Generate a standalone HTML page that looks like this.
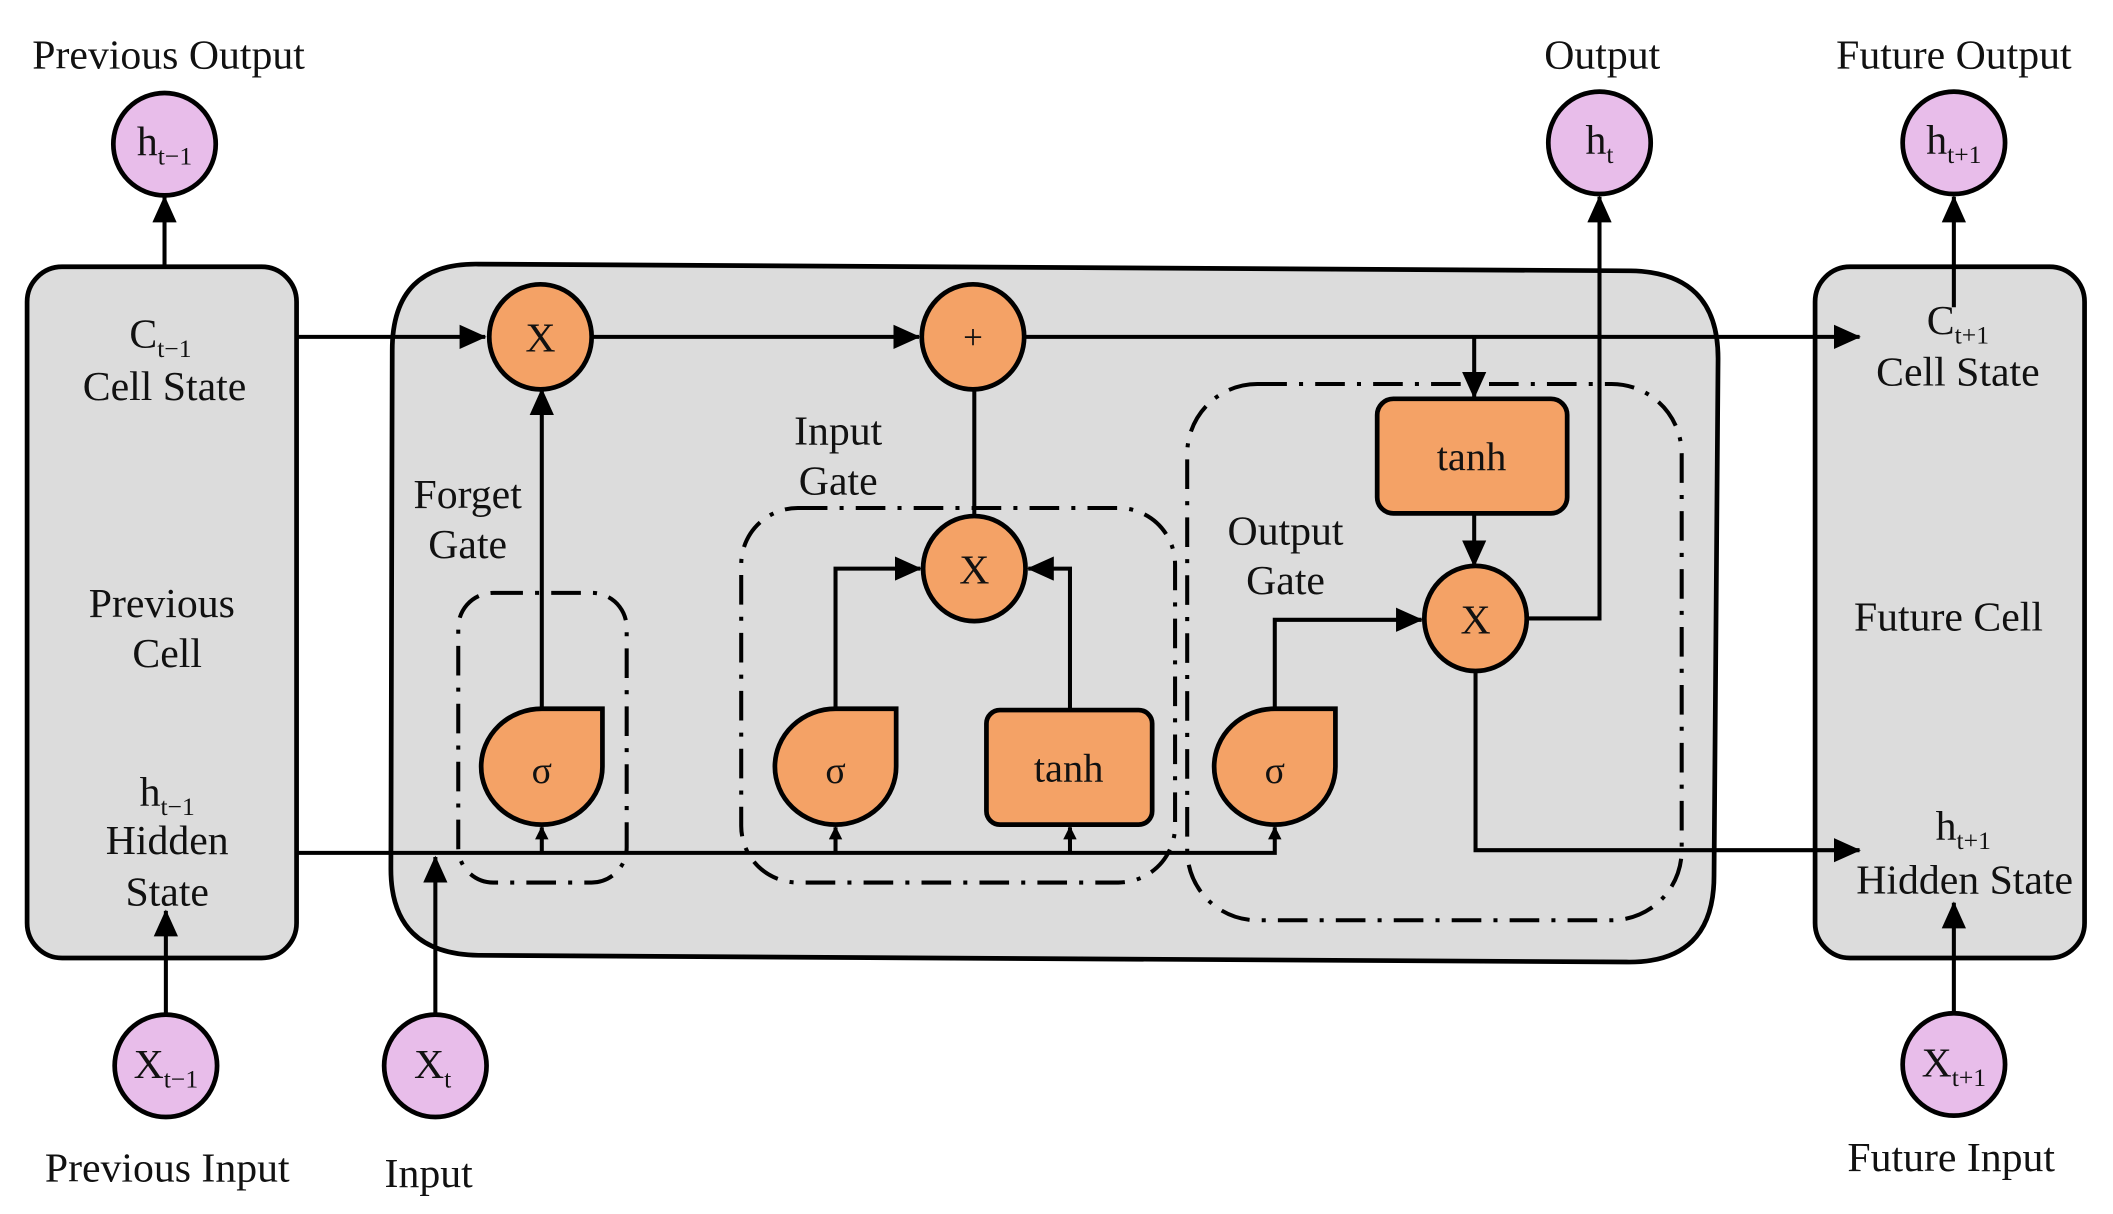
<!DOCTYPE html>
<html><head><meta charset="utf-8"><style>
html,body{margin:0;padding:0;background:#fff;}
svg{display:block;}
text{font-family:"Liberation Serif",serif;fill:#111;}
</style></head><body>
<svg width="2113" height="1214" viewBox="0 0 1568 901" xmlns="http://www.w3.org/2000/svg">
<defs>
<marker id="a" markerWidth="10" markerHeight="10" refX="9" refY="5" orient="auto" markerUnits="userSpaceOnUse" viewBox="0 0 10 10"><path d="M0,0 L10,5 L0,10z" fill="#000"/></marker>
<marker id="b" markerWidth="20" markerHeight="18" refX="19" refY="9" orient="auto" markerUnits="userSpaceOnUse" viewBox="0 0 20 18"><path d="M0,0 L20,9 L0,18z" fill="#000"/></marker>
</defs>
<g stroke="#000" stroke-width="3.5" fill="#dcdcdc">
<rect x="20" y="198" width="200" height="513" rx="26"/>
<rect x="1347" y="198" width="200" height="513" rx="26"/>
<path d="M355,196 L1210,201 Q1275,202 1275,266 L1272,650 Q1272,715 1207,714 L355,709 Q290,708 290,645 L291,260 Q291,195 355,196z"/>
</g>
<g stroke="#000" stroke-width="3" fill="none" stroke-dasharray="22,9,3,9">
<rect x="340" y="440" width="125" height="215" rx="26"/>
<rect x="550" y="377" width="322" height="278" rx="42"/>
<rect x="881" y="285" width="367" height="398" rx="52"/>
</g>
<g stroke="#000" stroke-width="3" fill="none">
<path d="M220,250 H360" marker-end="url(#b)"/>
<path d="M440,250 H682" marker-end="url(#b)"/>
<path d="M761,250 H1380" marker-end="url(#b)"/>
<path d="M1094,250 V295" marker-end="url(#b)"/>
<path d="M1094,381 V420" marker-end="url(#b)"/>
<path d="M1134,459 H1187 V146" marker-end="url(#b)"/>
<path d="M1095,497 V631 H1380" marker-end="url(#b)"/>
<path d="M220,633 H946 V614" marker-end="url(#a)"/>
<path d="M402,633 V614" marker-end="url(#a)"/>
<path d="M620,633 V614" marker-end="url(#a)"/>
<path d="M794,633 V614" marker-end="url(#a)"/>
<path d="M323,753 V636" marker-end="url(#b)"/>
<path d="M402,526 V289" marker-end="url(#b)"/>
<path d="M620,526 V422 H683" marker-end="url(#b)"/>
<path d="M794,527 V422 H763" marker-end="url(#b)"/>
<path d="M723,384 V288"/>
<path d="M946,526 V460 H1055" marker-end="url(#b)"/>
<path d="M122,198 V146" marker-end="url(#b)"/>
<path d="M123,753 V676" marker-end="url(#b)"/>
<path d="M1450,228 V146" marker-end="url(#b)"/>
<path d="M1450,752 V670" marker-end="url(#b)"/>
</g>
<g stroke="#000" stroke-width="3.5" fill="#e8bdea">
<circle cx="122" cy="107" r="38"/>
<circle cx="123" cy="791" r="38"/>
<circle cx="323" cy="791" r="38"/>
<circle cx="1187" cy="106" r="38"/>
<circle cx="1450" cy="106" r="38"/>
<circle cx="1450" cy="790" r="38"/>
</g>
<g stroke="#000" stroke-width="3.5" fill="#f4a266">
<ellipse cx="401" cy="250" rx="38" ry="39"/>
<ellipse cx="722" cy="250" rx="38" ry="39"/>
<ellipse cx="723" cy="422" rx="38" ry="39"/>
<ellipse cx="1095" cy="459" rx="38" ry="39"/>
<path d="M402,526 H447 V569 A45,43 0 1 1 402,526z"/>
<path d="M620,526 H665 V569 A45,43 0 1 1 620,526z"/>
<path d="M946,526 H991 V569 A45,43 0 1 1 946,526z"/>
<rect x="732" y="527" width="123" height="85" rx="10"/>
<rect x="1022" y="296" width="141" height="85" rx="12"/>
</g>
<g font-size="31" text-anchor="middle">
<text x="401" y="261">X</text>
<text x="722" y="259" font-size="26">+</text>
<text x="723" y="433">X</text>
<text x="1095" y="470">X</text>
<text x="402" y="581" font-size="28">σ</text>
<text x="620" y="581" font-size="28">σ</text>
<text x="946" y="581" font-size="28">σ</text>
<text x="793" y="580" font-size="30">tanh</text>
<text x="1092" y="349" font-size="30">tanh</text>
<text x="125" y="51">Previous Output</text>
<text x="1189" y="51">Output</text>
<text x="1450" y="51">Future Output</text>
<text x="124" y="877">Previous Input</text>
<text x="318" y="881">Input</text>
<text x="1448" y="869">Future Input</text>
<text x="122" y="297">Cell State</text>
<text x="120" y="458">Previous</text>
<text x="124" y="495">Cell</text>
<text x="124" y="634">Hidden</text>
<text x="124" y="672">State</text>
<text x="1453" y="286">Cell State</text>
<text x="1446" y="468">Future Cell</text>
<text x="1458" y="663">Hidden State</text>
<text x="347" y="377">Forget</text>
<text x="347" y="414">Gate</text>
<text x="622" y="330">Input</text>
<text x="622" y="367">Gate</text>
<text x="954" y="404">Output</text>
<text x="954" y="441">Gate</text>
<text x="119" y="258">C<tspan font-size="19" dy="7">t−1</tspan></text>
<text x="124" y="598">h<tspan font-size="19" dy="7">t−1</tspan></text>
<text x="1453" y="248">C<tspan font-size="19" dy="7">t+1</tspan></text>
<text x="1457" y="623">h<tspan font-size="19" dy="7">t+1</tspan></text>
<text x="122" y="115">h<tspan font-size="19" dy="7">t−1</tspan></text>
<text x="123" y="800">X<tspan font-size="19" dy="7">t−1</tspan></text>
<text x="321" y="800">X<tspan font-size="19" dy="7">t</tspan></text>
<text x="1187" y="114">h<tspan font-size="19" dy="7">t</tspan></text>
<text x="1450" y="114">h<tspan font-size="19" dy="7">t+1</tspan></text>
<text x="1450" y="799">X<tspan font-size="19" dy="7">t+1</tspan></text>
</g>
</svg>
</body></html>
